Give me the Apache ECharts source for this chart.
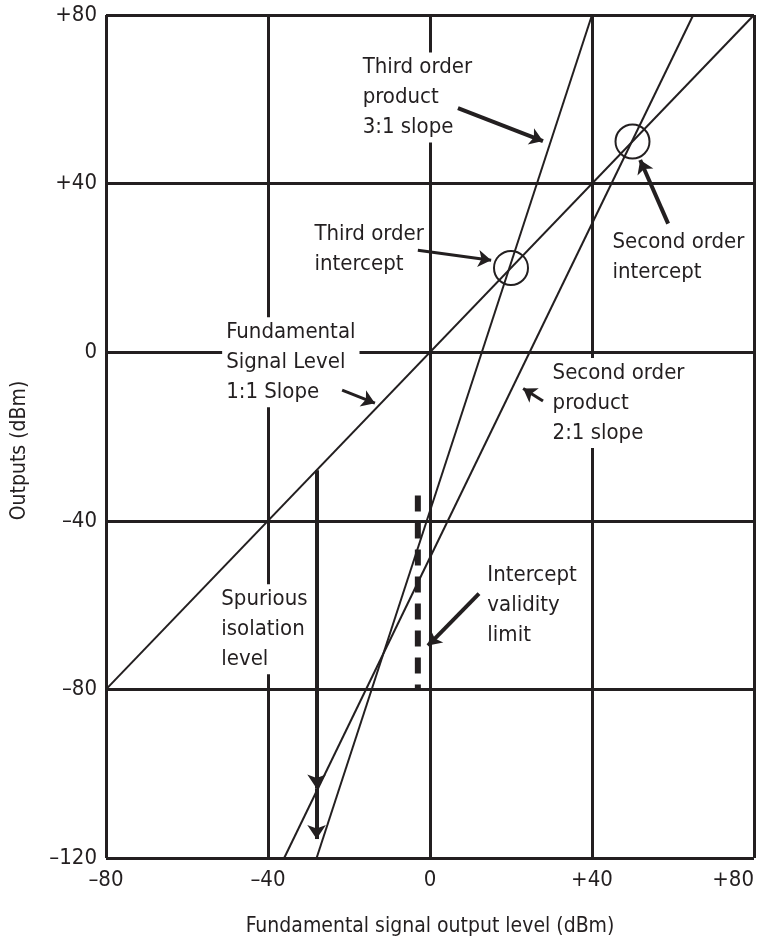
<!DOCTYPE html>
<html style="height: 100%">
<head>
<meta charset="utf-8">
<script src="https://cdn.jsdelivr.net/npm/echarts@6/dist/echarts.min.js"></script>
</head>
<body style="height: 100%; margin: 0; background: #fff">
<div id="container" style="width: 764px; height: 942px;"></div>
<script type="text/javascript">
var ink = '#231f20';
var font = '"DejaVu Sans Condensed", "Liberation Sans Narrow", sans-serif';

// lines (dBm in -> dBm out)
var fundamental = [[-80, -80], [80, 80]];
var thirdOrder = [[-28, -120], [40, 80]];
var secondOrder = [[-36, -120], [65, 80]];
var validityLimit = [[-3, -34], [-3, -80]];
var intercepts = [[20, 20], [50, 50]];

// spurious isolation arrow, x = -28
var spurious = [
  [[-28, -28], [-28, -103.5]],
  [[-28, -103.5], [-28, -115.5]]
];

// pointer arrows: [from, to]
var pointers = [
  [[6.9, 57.9], [27.9, 50.1]],
  [[-3.0, 24.2], [15.1, 21.8]],
  [[58.8, 30.5], [51.9, 45.6]],
  [[-21.7, -9.0], [-13.6, -12.1]],
  [[27.9, -11.6], [23.0, -8.6]],
  [[12.1, -57.3], [-0.5, -69.6]]
];
var pointerWidth = [4, 3, 4, 3, 3, 4];

// annotation texts, anchored at the top-left of each block
var notes = [
  [-17.5, 71, 'Third order\nproduct\n3:1 slope'],
  [-29.4, 31.5, 'Third order\nintercept'],
  [44.2, 29.6, 'Second order\nintercept'],
  [-51.2, 8.2, 'Fundamental\nSignal Level\n1:1 Slope'],
  [29.4, -1.5, 'Second order\nproduct\n2:1 slope'],
  [13.3, -49.6, 'Intercept\nvalidity\nlimit'],
  [-52.4, -55.2, 'Spurious\nisolation\nlevel']
];

function sign(v) {
  if (v > 0) return '+' + v;
  if (v < 0) return '\u2013' + Math.abs(v);
  return '0';
}

function plainLine(data, width, dash) {
  return {
    type: 'line', data: data, showSymbol: false, silent: true, z: 3,
    lineStyle: { color: ink, width: width, type: dash || 'solid', cap: 'butt' }
  };
}

var chart = echarts.init(document.getElementById('container'));
var option = {
  animation: false,
  backgroundColor: '#fff',
  textStyle: { fontFamily: font, color: ink },
  grid: { left: 106, right: 10, top: 15, bottom: 78 },
  xAxis: {
    type: 'value', min: -80, max: 80, interval: 40,
    name: 'Fundamental signal output level (dBm)',
    nameLocation: 'middle', nameGap: 58,
    nameTextStyle: { fontSize: 21, color: ink, fontFamily: font },
    axisLine: { show: false }, axisTick: { show: false },
    axisLabel: { formatter: sign, fontSize: 22, color: ink, fontFamily: font, margin: 11, alignMaxLabel: 'right' },
    splitLine: { show: true, showMinLine: true, showMaxLine: true, lineStyle: { color: ink, width: 3 } }
  },
  yAxis: {
    type: 'value', min: -120, max: 80, interval: 40,
    name: 'Outputs (dBm)',
    nameLocation: 'middle', nameGap: 76, nameRotate: 90,
    nameTextStyle: { fontSize: 21, color: ink, fontFamily: font, padding: [0, 28, 0, 0] },
    axisLine: { show: false }, axisTick: { show: false },
    axisLabel: { formatter: sign, fontSize: 22, color: ink, fontFamily: font, margin: 9 },
    splitLine: { show: true, showMinLine: true, showMaxLine: true, lineStyle: { color: ink, width: 3 } }
  },
  series: [
    {
      type: 'scatter', z: 2, silent: true,
      data: notes.map(function (n) { return { value: [n[0], n[1]], name: n[2] }; }),
      symbolSize: 1,
      itemStyle: { color: 'rgba(0,0,0,0)', opacity: 1 },
      label: {
        show: true, formatter: '{b}', position: [0, 0],
        align: 'left', verticalAlign: 'top', opacity: 1,
        fontSize: 22, lineHeight: 30, color: ink, fontFamily: font,
        backgroundColor: '#fff', padding: [0, 4]
      }
    },
    plainLine(fundamental, 2),
    plainLine(thirdOrder, 2),
    plainLine(secondOrder, 2),
    plainLine(validityLimit, 6, [16, 11]),
    {
      type: 'scatter', z: 4, silent: true,
      data: intercepts, symbol: 'circle', symbolSize: 34,
      itemStyle: { color: 'rgba(0,0,0,0)', borderColor: ink, borderWidth: 2, opacity: 1 }
    },
    {
      type: 'lines', coordinateSystem: 'cartesian2d', z: 5, silent: true,
      data: pointers.map(function (p, i) {
        return { coords: p, lineStyle: { width: pointerWidth[i] } };
      }),
      symbol: ['none', 'arrow'], symbolSize: 13,
      lineStyle: { color: ink, opacity: 1, curveness: 0 }
    },
    {
      type: 'lines', coordinateSystem: 'cartesian2d', z: 5, silent: true,
      data: spurious.map(function (p) { return { coords: p }; }),
      symbol: ['none', 'arrow'], symbolSize: [11, 14],
      lineStyle: { color: ink, width: 4, opacity: 1 }
    }
  ]
};
chart.setOption(option);
</script>
</body>
</html>
